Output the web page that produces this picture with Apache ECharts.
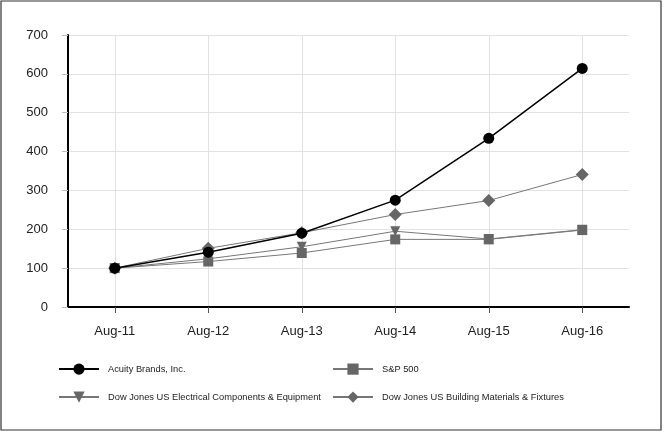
<!DOCTYPE html>
<html><head><meta charset="utf-8">
<script src="https://cdn.jsdelivr.net/npm/echarts@6/dist/echarts.min.js"></script>
<style>html,body{margin:0;padding:0;background:#fff}#c{width:664px;height:433px}</style>
</head><body><div id="c"></div>
<script>
const categories = ['Aug-11','Aug-12','Aug-13','Aug-14','Aug-15','Aug-16'];
const acuity = [100, 141, 190, 275, 434, 614];
const sp500 = [100, 117, 139, 174, 174, 198];
const electrical = [100, 124, 155, 195, 175, 199];
const building = [100, 151, 191, 238, 274, 341];
const yTicks = [0, 700, 100];

const font = 'Liberation Sans, Arial, sans-serif';
const chart = echarts.init(document.getElementById('c'));
function legendAt(name, left, top) {
  return {
    data: [name], left: left, top: top, orient: 'horizontal',
    itemWidth: 40, itemHeight: 14, padding: 0,
    selectedMode: false,
    textStyle: {fontFamily: font, fontSize: 9.3, color: '#222', padding: [0,0,0,4]}
  };
}
chart.setOption({
  animation: false,
  graphic: [{type: 'rect', shape: {x: 1, y: 1, width: 660, height: 429},
    style: {fill: 'none', stroke: '#333', lineWidth: 1.2}, z: 100}],
  grid: {left: 68, right: 35, top: 35, bottom: 126},
  legend: [
    legendAt('Acuity Brands, Inc.', 58, 363.5),
    legendAt('S&P 500', 332, 363.5),
    legendAt('Dow Jones US Electrical Components & Equipment', 58, 391.5),
    legendAt('Dow Jones US Building Materials & Fixtures', 332, 391.5)
  ],
  xAxis: {
    type: 'category', data: categories, boundaryGap: true,
    axisLine: {lineStyle: {color: '#000', width: 2}},
    axisTick: {show: true, alignWithLabel: true, length: 6, lineStyle: {color: '#555'}},
    splitLine: {show: true, alignWithLabel: true, lineStyle: {color: '#e2e2e2', width: 1}},
    axisLabel: {fontFamily: font, fontSize: 13, color: '#222', margin: 18}
  },
  yAxis: {
    type: 'value', min: yTicks[0], max: yTicks[1], interval: yTicks[2],
    axisLine: {show: true, lineStyle: {color: '#000', width: 2}},
    axisTick: {show: true, length: 6, lineStyle: {color: '#bbb'}},
    splitLine: {show: true, lineStyle: {color: '#e2e2e2', width: 1}},
    axisLabel: {fontFamily: font, fontSize: 13, color: '#222', margin: 20}
  },
  series: [
    {name: 'S&P 500', type: 'line', data: sp500, symbol: 'rect', symbolSize: 10,
      itemStyle: {color: '#666'}, lineStyle: {color: '#777', width: 1}, z: 2},
    {name: 'Dow Jones US Electrical Components & Equipment', type: 'line', data: electrical,
      symbol: 'triangle', symbolRotate: 180, symbolSize: 10,
      itemStyle: {color: '#666'}, lineStyle: {color: '#777', width: 1}, z: 3},
    {name: 'Dow Jones US Building Materials & Fixtures', type: 'line', data: building,
      symbol: 'diamond', symbolSize: 13,
      itemStyle: {color: '#666'}, lineStyle: {color: '#777', width: 1}, z: 4},
    {name: 'Acuity Brands, Inc.', type: 'line', data: acuity, symbol: 'circle', symbolSize: 11,
      itemStyle: {color: '#000'}, lineStyle: {color: '#000', width: 1.5}, z: 5}
  ]
});
</script></body></html>
